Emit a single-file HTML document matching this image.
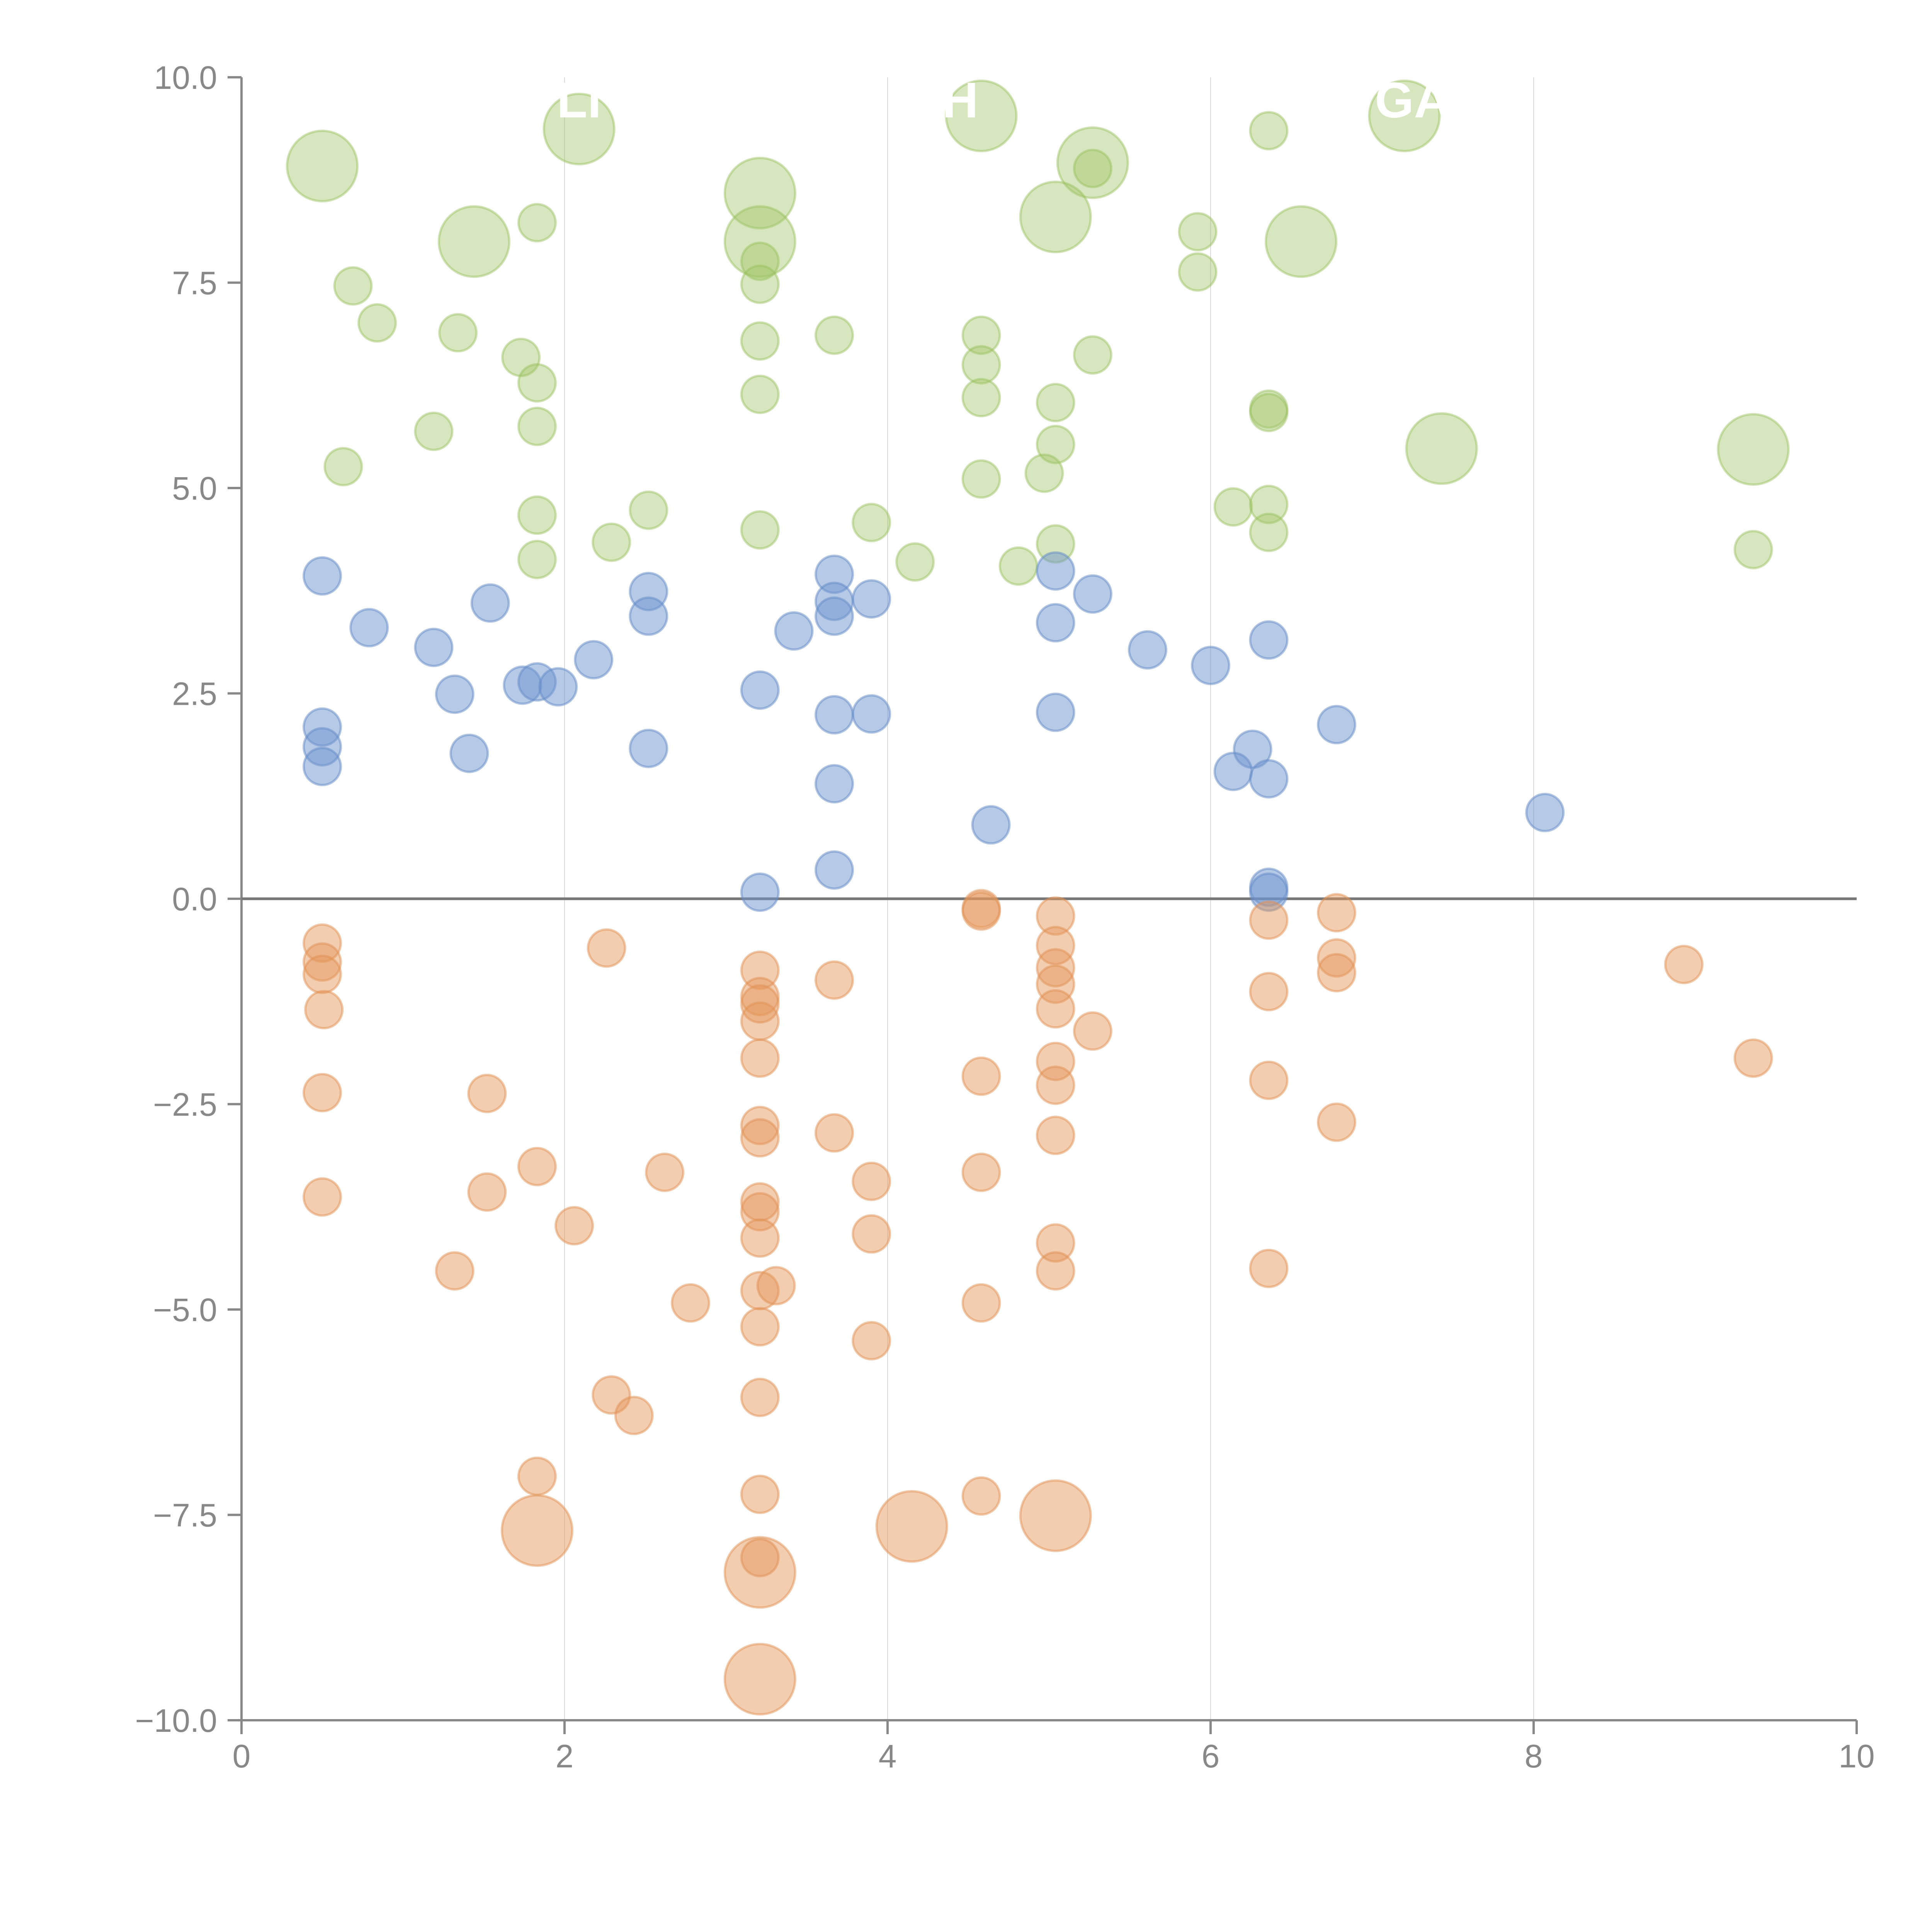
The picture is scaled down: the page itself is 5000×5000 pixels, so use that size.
<!DOCTYPE html>
<html><head><meta charset="utf-8"><style>
html,body{margin:0;padding:0;background:#fff;}
svg{display:block;font-family:"Liberation Sans",sans-serif;}
</style></head><body>
<svg id="chart" width="5000" height="5000" viewBox="0 0 5000 5000" xmlns="http://www.w3.org/2000/svg">
<rect width="5000" height="5000" fill="#fff"/>
<g id="grid"></g>
<g id="axes"></g>
<g id="marks"></g>
</svg>
<script>
const xTicks = [0, 2, 4, 6, 8, 10];
const yTicks = [10, 7.5, 5, 2.5, 0, -2.5, -5, -7.5, -10];
const xTickLabels = ["0", "2", "4", "6", "8", "10"];
const yTickLabels = ["10.0", "7.5", "5.0", "2.5", "0.0", "\u22122.5", "\u22125.0", "\u22127.5", "\u221210.0"];

const greenX = [0.50,2.09,4.58,7.20,5.27,3.21,6.36,1.83,1.44,3.21,5.04,6.56,5.92,5.27,0.69,0.84,3.21,3.21,5.92,1.34,1.73,1.83,3.21,3.67,4.58,4.58,5.27,3.21,4.58,5.04,6.36,6.36,1.19,1.83,5.04,0.63,7.43,9.36,4.97,4.58,1.83,2.52,6.14,6.36,3.21,3.90,6.36,2.29,5.04,1.83,4.17,4.81,9.36];
const greenY = [8.92,9.37,9.53,9.53,8.96,8.59,9.35,8.23,8.00,8.00,8.30,8.00,8.12,8.89,7.46,7.01,7.76,7.48,7.63,6.89,6.59,6.28,6.79,6.86,6.86,6.50,6.62,6.14,6.10,6.04,5.96,5.92,5.69,5.75,5.53,5.26,5.48,5.47,5.18,5.11,4.67,4.73,4.77,4.80,4.49,4.58,4.46,4.34,4.32,4.13,4.10,4.05,4.25];
const greenS = [3.6,3.6,3.6,3.6,3.6,3.6,1,1,3.6,3.6,3.6,3.6,1,1,1,1,1,1,1,1,1,1,1,1,1,1,1,1,1,1,1,1,1,1,1,1,3.6,3.6,1,1,1,1,1,1,1,1,1,1,1,1,1,1,1];

const blueX = [0.50,0.79,1.19,1.54,2.52,2.52,2.18,3.67,3.67,3.67,3.90,3.42,5.04,5.04,5.27,5.61,6.00,6.36,1.32,1.74,1.83,1.96,3.21,0.50,0.50,0.50,1.41,2.52,3.67,3.90,5.04,6.78,6.26,6.14,6.36,3.67,8.07,4.64,3.67,3.21,6.36,6.36];
const blueY = [3.93,3.30,3.06,3.60,3.74,3.44,2.91,3.95,3.62,3.44,3.65,3.26,3.99,3.36,3.71,3.03,2.84,3.15,2.49,2.60,2.64,2.58,2.54,2.09,1.85,1.61,1.77,1.83,2.24,2.25,2.27,2.12,1.82,1.55,1.46,1.40,1.05,0.90,0.35,0.08,0.14,0.08];
const blueS = blueX.map(() => 1);

const orangeX = [4.58,4.58,6.78,6.36,5.04,0.50,0.50,0.50,2.26,5.04,3.21,5.04,6.78,6.78,8.93,3.67,5.04,3.21,3.21,6.36,3.21,0.51,5.04,5.27,3.21,5.04,5.04,4.58,6.36,9.36,0.50,1.52,6.78,3.21,3.21,3.67,5.04,1.83,2.62,4.58,3.90,0.50,1.52,3.21,3.21,2.06,3.90,3.21,5.04,6.36,1.32,3.21,3.31,2.78,4.58,3.21,3.90,2.29,3.21,2.43,1.83,3.21,4.58,1.83,4.15,5.04,3.21,3.21,3.21,5.04];
const orangeY = [-0.12,-0.15,-0.17,-0.26,-0.21,-0.54,-0.77,-0.92,-0.60,-0.57,-0.87,-0.84,-0.72,-0.90,-0.80,-0.99,-1.04,-1.19,-1.28,-1.13,-1.49,-1.35,-1.34,-1.61,-1.94,-1.98,-2.27,-2.16,-2.21,-1.94,-2.36,-2.37,-2.72,-2.76,-2.91,-2.85,-2.88,-3.26,-3.33,-3.33,-3.44,-3.63,-3.57,-3.69,-3.81,-3.98,-4.08,-4.13,-4.19,-4.50,-4.53,-4.77,-4.71,-4.92,-4.92,-5.21,-5.38,-6.04,-6.07,-6.29,-7.03,-7.25,-7.27,-7.69,-7.64,-7.51,-8.20,-8.02,-9.50,-4.53];
const orangeS = [1,1,1,1,1,1,1,1,1,1,1,1,1,1,1,1,1,1,1,1,1,1,1,1,1,1,1,1,1,1,1,1,1,1,1,1,1,1,1,1,1,1,1,1,1,1,1,1,1,1,1,1,1,1,1,1,1,1,1,1,1,1,1,3.6,3.6,3.6,3.6,1,3.6,1];

const NS = "http://www.w3.org/2000/svg";
const X0 = 625, X1 = 4805, YT = 200, YB = 4452;
function xs(v){ return X0 + (v - 0) / 10 * (X1 - X0); }
function ys(v){ return YB - (v + 10) / 20 * (YB - YT); }
function rs(s){ return 48 * Math.sqrt(s); }
function mk(tag, attrs, parent){
  const e = document.createElementNS(NS, tag);
  for (const k in attrs) e.setAttribute(k, attrs[k]);
  parent.appendChild(e);
  return e;
}
const grid = document.getElementById('grid');
const axes = document.getElementById('axes');
const marks = document.getElementById('marks');

xTicks.forEach((t, i) => {
  if (t > 0 && t < 10) {
    const g = mk('line', {x1: xs(t), x2: xs(t), y1: ys(10), y2: ys(-10), stroke: '#d8d8d8', 'stroke-width': 2}, grid);
    
    
  }
  const tk = mk('line', {x1: xs(t), x2: xs(t), y1: ys(-10), y2: ys(-10) + 36, stroke: '#888', 'stroke-width': 6}, axes);
  
  
  const lb = mk('text', {x: xs(t), y: ys(-10) + 122, 'text-anchor': 'middle', 'font-size': 84, fill: '#888'}, axes);
  lb.textContent = xTickLabels[i];
  
  
});
yTicks.forEach((t, i) => {
  const tk = mk('line', {x1: xs(0) - 36, x2: xs(0), y1: ys(t), y2: ys(t), stroke: '#888', 'stroke-width': 6}, axes);
  
  
  const lb = mk('text', {x: 562, y: ys(t) + 30, 'text-anchor': 'end', 'font-size': 84, fill: '#888'}, axes);
  lb.textContent = yTickLabels[i];
  
  
});
const ya = mk('line', {x1: xs(0), x2: xs(0), y1: ys(10), y2: ys(-10) + 3, stroke: '#888', 'stroke-width': 6}, axes);


const xa = mk('line', {x1: xs(0) - 3, x2: xs(10), y1: ys(-10), y2: ys(-10), stroke: '#888', 'stroke-width': 6}, axes);


const zl = mk('line', {x1: xs(0), x2: xs(10), y1: ys(0), y2: ys(0), stroke: '#777', 'stroke-width': 7}, axes);



function series(xa, ya, sa, fill, stroke, name){
  for (let i = 0; i < xa.length; i++) {
    const c = mk('circle', {cx: xs(xa[i]), cy: ys(ya[i]), r: rs(sa[i]), fill: fill, stroke: stroke, 'stroke-width': 6}, marks);
    
    
  }
}
series(greenX, greenY, greenS, 'rgba(160,196,100,0.42)', 'rgba(150,190,90,0.45)', 'green-bubble');
series(blueX, blueY, blueS, 'rgba(110,147,205,0.5)', 'rgba(100,140,200,0.5)', 'blue-bubble');
series(orangeX, orangeY, orangeS, 'rgba(228,150,90,0.48)', 'rgba(225,145,85,0.5)', 'orange-bubble');

const labels = [["LI", 2.09, 9.7], ["H", 4.45, 9.7], ["GA", 7.25, 9.7]];
labels.forEach(l => {
  const t = mk('text', {x: xs(l[1]), y: ys(l[2]) + 40, 'text-anchor': 'middle', 'font-size': 130, 'font-weight': 'bold', fill: '#fff'}, marks);
  t.textContent = l[0];
  
  
});
</script>
</body></html>
